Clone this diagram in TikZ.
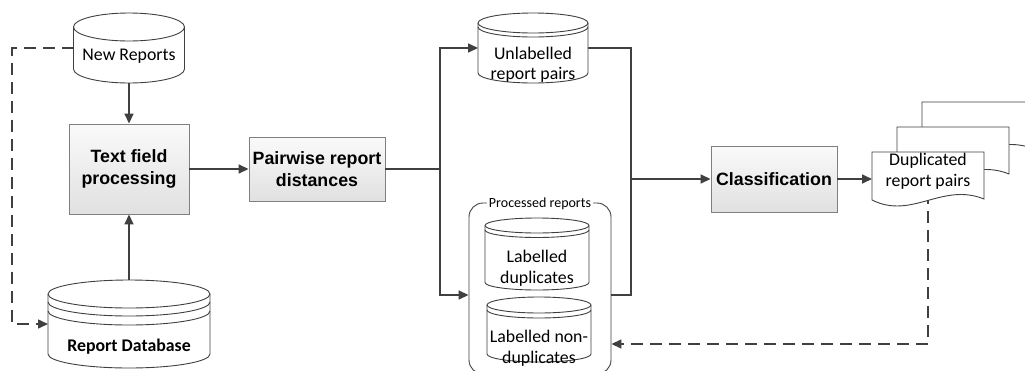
\documentclass[tikz,border=0pt]{standalone}
\usepackage{fontspec}
\setmainfont{Carlito}
\newfontfamily\arialfont{Liberation Sans}
\usetikzlibrary{arrows.meta,calc}
\definecolor{ln}{HTML}{404040}
\definecolor{bx}{HTML}{7F7F7F}
\tikzset{
  conn/.style={draw=ln, line width=1.6pt, -{Triangle[length=10pt,width=9pt]}},
  wire/.style={draw=ln, line width=1.6pt},
  dconn/.style={draw=ln, line width=1.5pt, dash pattern=on 12pt off 7pt, -{Triangle[length=10pt,width=9pt]}},
  dwire/.style={draw=ln, line width=1.5pt, dash pattern=on 12pt off 7pt},
  procbox/.style={draw=bx, line width=0.9pt, top color=black!2, bottom color=black!12,
    font=\arialfont\bfseries\fontsize{17.8}{21.5}\selectfont, align=center, inner sep=0pt},
  holder/.style={inner sep=0pt, outer sep=0pt},
  cylline/.style={draw=ln, line width=0.9pt},
  cyltext/.style={font=\fontsize{17.8}{20.5}\selectfont, align=center, inner sep=0pt},
  docline/.style={draw=ln, line width=0.9pt, fill=white},
}
\newcommand\cyl[4]{%
  \draw[cylline, fill=white] ($(#1.north west)+(0pt,-#3pt)$) -- ($(#1.south west)+(0pt,#3pt)$)
    arc[start angle=180, end angle=360, x radius=#2pt, y radius=#3pt]
    -- ($(#1.north east)+(0pt,-#3pt)$)
    arc[start angle=0, end angle=180, x radius=#2pt, y radius=#3pt] -- cycle;
  \foreach \d in {#4}{%
    \draw[cylline] ($(#1.north west)+(0pt,{-(#3+\d)*1pt})$)
      arc[start angle=180, end angle=360, x radius=#2pt, y radius=#3pt];}%
}
\newcommand\docshape[1]{%
  \draw[docline] (#1) -- ($(#1)+(112,0)$) -- ($(#1)+(112,47)$)
    .. controls ($(#1)+(70,30)$) and ($(#1)+(40,68)$) .. ($(#1)+(0,48)$) -- cycle;%
}
\begin{document}
\begin{tikzpicture}[x=1pt, y=-1pt]
\fill[white] (0,0) rectangle (1025,370);
\useasboundingbox (0,0) rectangle (1025,370);

% holders and boxes
\node[holder, minimum width=111pt, minimum height=70pt] (nr) at (129,48) {};
\node[holder, minimum width=162pt, minimum height=88pt] (rdb) at (129,324) {};
\node[holder, minimum width=110pt, minimum height=70pt] (ul) at (533,48) {};
\node[holder, minimum width=104pt, minimum height=72pt] (ld) at (537,254) {};
\node[holder, minimum width=104pt, minimum height=65pt] (lnd) at (539,329.5) {};
\node[holder, minimum width=112pt, minimum height=40pt] (dup) at (928,172) {};

\node[procbox, minimum width=120pt, minimum height=90pt] (tfp) at (129,169) {Text field\\processing};
\node[procbox, minimum width=136pt, minimum height=64pt] (prd) at (317,169) {Pairwise report\\distances};
\node[procbox, minimum width=126pt, minimum height=66pt] (cls) at (774,179) {Classification};

\node[draw=ln, line width=0.9pt, rounded corners=14pt, minimum width=142pt, minimum height=171pt, inner sep=0pt] (proc) at (540,288.5) {};

\coordinate (j1) at (440,169);
\coordinate (j2) at (631,179);

% connectors
\draw[dconn] (nr.west) -| ($(rdb.west)+(-36,0)$) -- (rdb.west);
\draw[dconn] (dup.south) |- ($(proc.east)+(0,55.5)$);
\draw[conn] (nr.south) -- (tfp.north);
\draw[conn] (rdb.north) -- (tfp.south);
\draw[conn] (tfp.east) -- (prd.west);
\draw[wire] (prd.east) -- (j1);
\draw[conn] (j1) |- (ul.west);
\draw[conn] (j1) |- ($(proc.west)+(0,6.5)$);
\draw[wire] (ul.east) -| (j2);
\draw[wire] ($(proc.east)+(0,6.5)$) -| (j2);
\draw[conn] (j2) -- (cls.west);
\draw[conn] (cls.east) -- (cls.east -| dup.west);

% shapes
\cyl{nr}{55.5}{14}{0}
\cyl{rdb}{81}{14}{0,8,17}
\cyl{ul}{55}{10}{0,4}
\cyl{ld}{52}{7.5}{0,4.5}
\cyl{lnd}{52}{8}{0,5}

\coordinate (d1) at (dup.north west);
\coordinate (d2) at ($(d1)+(25,-25)$);
\coordinate (d3) at ($(d1)+(50,-50)$);
\docshape{d3}
\docshape{d2}
\docshape{d1}

% texts
\node[cyltext] (nrt) at (129,56) {New Reports};
\node[cyltext, font=\bfseries\fontsize{17.8}{20.5}\selectfont] (rdbt) at (129,347) {Report Database};
\node[cyltext] (ult) at (533,65) {Unlabelled\\report pairs};
\node[cyltext] (ldt) at (537,268) {Labelled\\duplicates};
\node[cyltext] (lndt) at (539,348) {Labelled non-\\duplicates};
\node[cyltext] (dupt) at (928,171) {Duplicated\\report pairs};
\node[fill=white, inner xsep=1.5pt, inner ysep=0pt, font=\fontsize{14}{16}\selectfont] (plab) at ($(proc.north)+(0,1)$) {Processed reports};
\end{tikzpicture}
\end{document}
